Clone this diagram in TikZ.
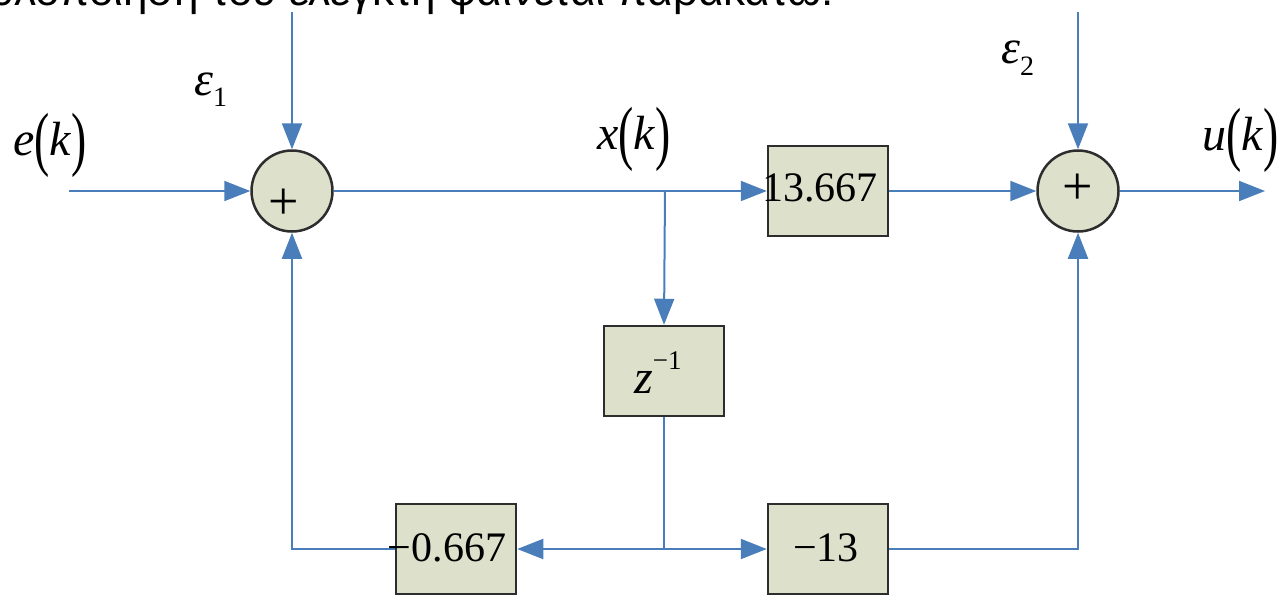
\documentclass[tikz,border=0pt]{standalone}
\usepackage{fontspec}
\usepackage{graphicx}
\setmainfont{Liberation Serif}
\newfontfamily\grk{Liberation Sans}
\usetikzlibrary{arrows.meta}
\definecolor{lineblue}{RGB}{74,126,187}
\definecolor{boxfill}{RGB}{221,224,203}
\definecolor{boxedge}{RGB}{45,45,45}
\newcommand{\bigtxt}{\fontsize{42}{46}\selectfont}
\newcommand{\sigtxt}{\fontsize{48}{52}\selectfont}
\newcommand{\prn}[1]{\raisebox{-7pt}{\scalebox{0.95}[1.48]{\fontsize{48}{50}\selectfont #1}}}
\newcommand{\sigk}[1]{\textit{#1}\prn{(}\textit{k}\prn{)}}
\begin{document}
\begin{tikzpicture}[x=1pt,y=-1pt,
  wire/.style={draw=lineblue, line width=2pt},
  conn/.style={wire, -{Triangle[length=26pt,width=20pt]}},
  blk/.style={draw=boxedge, line width=2.5pt, fill=boxfill, minimum width=120pt, minimum height=90pt, inner sep=0pt},
  sumnode/.style={circle, draw=boxedge, line width=2.5pt, fill=boxfill, minimum size=81pt, inner sep=0pt},
  lbl/.style={inner sep=0pt, font=\bigtxt},
  sig/.style={inner sep=0pt, font=\sigtxt},
  plus/.style={inner sep=0pt, font=\fontsize{54}{54}\selectfont}]
\useasboundingbox (0,0) rectangle (1281,595);
% top text (cut off by the page edge)
\node[anchor=base east, inner sep=0pt, font=\grk\fontsize{44}{44}\selectfont] (toptext) at (834,5) {υλοποίηση του ελεγκτή φαίνεται παρακάτω:};
% summing junctions
\node[sumnode] (s1) at (292,191) {};
\node[sumnode] (s2) at (1078,191) {};
\node[plus] (p1) at (284,204) {+};
\node[plus] (p2) at (1078,189) {+};
% blocks
\node[blk] (g1) at (828,191) {};
\node[blk] (zd) at (664,371) {};
\node[blk] (g2) at (456,549) {};
\node[blk] (g3) at (828,549) {};
% coordinates
\coordinate (in) at (69,191);
\coordinate (out) at (1265,191);
\coordinate (e1top) at (292,12);
\coordinate (e2top) at (1078,12);
\coordinate (br1) at (665,191);
\coordinate (br2) at (664,549);
% connectors
\draw[conn] (in) -- (s1.west);
\draw[conn] (e1top) -- (s1.north);
\draw[conn] (e2top) -- (s2.north);
\draw[conn] (s1.east) -- (g1.west);
\draw[conn] (br1) -- (zd.north);
\draw[conn] (g1.east) -- (s2.west);
\draw[conn] (s2.east) -- (out);
\draw[wire] (zd.south) -- (br2);
\draw[conn] (br2) -- (g2.east);
\draw[conn] (br2) -- (g3.west);
\draw[conn] (g2.west) -| (s1.south);
\draw[conn] (g3.east) -| (s2.south);
% block texts
\node[lbl] (g1t) at (820,188) {13.667};
\node[sig, anchor=base west] (zdt) at (634,393) {\textit{z}\raisebox{24pt}{\fontsize{27}{27}\selectfont −1}};
\node[lbl] (g2t) at (447,548) {−0.667};
\node[lbl] (g3t) at (826,548) {−13};
% signal labels
\node[sig, anchor=base west] (ek) at (13,155) {\sigk{e}};
\node[sig, anchor=base west] (xk) at (597,149) {\sigk{x}};
\node[sig, anchor=base east] (uk) at (1279,150) {\sigk{u}};
\node[sig, anchor=base west] (eps1) at (194,95) {\textit{ε}\raisebox{-11pt}{\fontsize{28}{28}\selectfont 1}};
\node[sig, anchor=base west] (eps2) at (1001,63) {\textit{ε}\raisebox{-12pt}{\fontsize{28}{28}\selectfont 2}};
\end{tikzpicture}
\end{document}
